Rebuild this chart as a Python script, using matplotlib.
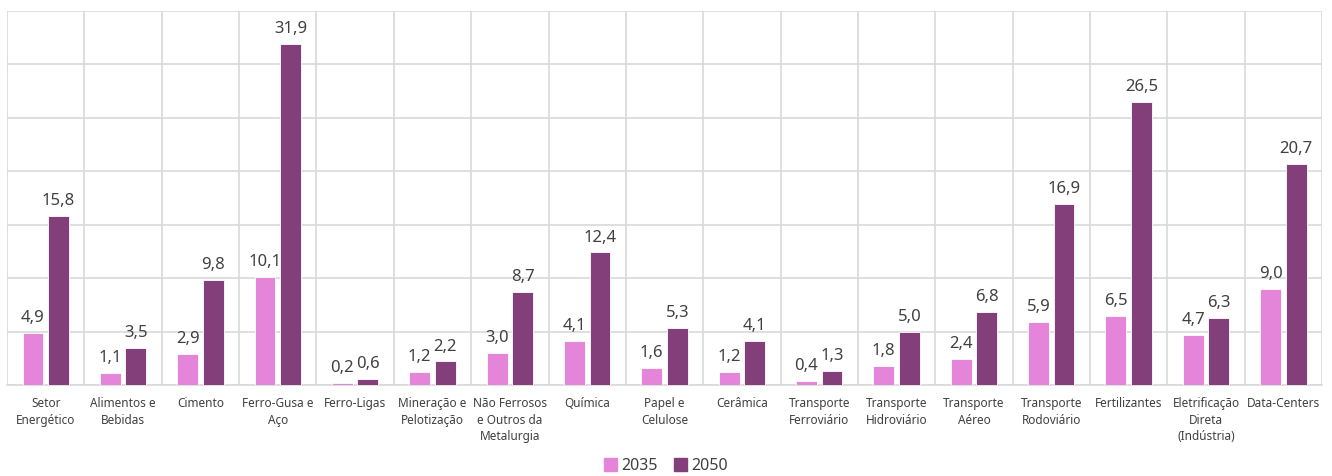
import numpy as np
import matplotlib
matplotlib.use('Agg')
import matplotlib.pyplot as plt
from matplotlib.patches import Patch

plt.rcParams['font.family'] = ['Noto Sans', 'DejaVu Sans']

categorias = [
    'Setor\nEnergético', 'Alimentos e\nBebidas', 'Cimento', 'Ferro-Gusa e\nAço',
    'Ferro-Ligas', 'Mineração e\nPelotização', 'Não Ferrosos\ne Outros da\nMetalurgia',
    'Química', 'Papel e\nCelulose', 'Cerâmica', 'Transporte\nFerroviário',
    'Transporte\nHidroviário', 'Transporte\nAéreo', 'Transporte\nRodoviário',
    'Fertilizantes', 'Eletrificação\nDireta\n(Indústria)', 'Data-Centers',
]
v2035 = [4.9, 1.1, 2.9, 10.1, 0.2, 1.2, 3.0, 4.1, 1.6, 1.2, 0.4, 1.8, 2.4, 5.9, 6.5, 4.7, 9.0]
v2050 = [15.8, 3.5, 9.8, 31.9, 0.6, 2.2, 8.7, 12.4, 5.3, 4.1, 1.3, 5.0, 6.8, 16.9, 26.5, 6.3, 20.7]

COR_2035 = '#e585d9'
COR_2050 = '#833f7a'
GRID = '#d9d9d9'
TXT = '#404040'

fig = plt.figure(figsize=(13.32, 4.76), dpi=100)
ax = fig.add_axes([0.0053, 0.1912, 0.9872, 0.7857])

x = np.arange(len(categorias))
w = 0.27
off = 0.165
b1 = ax.bar(x - off, v2035, w, color=COR_2035, edgecolor='white', linewidth=0.6, zorder=3)
b2 = ax.bar(x + off, v2050, w, color=COR_2050, edgecolor='white', linewidth=0.6, zorder=3)

fmt = lambda v: f'{v:.1f}'.replace('.', ',')
for bars, vals in ((b1, v2035), (b2, v2050)):
    for b, v in zip(bars, vals):
        ax.annotate(fmt(v), (b.get_x() + b.get_width() / 2, v),
                    xytext=(0, 5), textcoords='offset points',
                    ha='center', va='bottom', fontsize=12, color=TXT)

ax.set_xlim(-0.5, len(categorias) - 0.5)
ax.set_ylim(0, 35)
ax.set_yticks(np.arange(0, 36, 5))
ax.set_yticklabels([])
ax.tick_params(axis='y', length=0)
ax.yaxis.grid(True, color=GRID, linewidth=1.2, zorder=0)

# linhas verticais entre categorias
ax.set_xticks(np.arange(-0.5, len(categorias)), minor=True)
ax.xaxis.grid(True, which='minor', color=GRID, linewidth=1.2, zorder=0)
ax.tick_params(axis='x', which='minor', length=0)
ax.set_xticks(x)
ax.set_xticklabels(categorias, fontsize=8.5, color=TXT, linespacing=1.35)
ax.tick_params(axis='x', which='major', length=0, pad=9)

for s in ax.spines.values():
    s.set_visible(False)
ax.spines['bottom'].set_visible(True)
ax.spines['bottom'].set_color(GRID)
ax.spines['bottom'].set_linewidth(1.2)

handles = [Patch(color=COR_2035, label='2035'), Patch(color=COR_2050, label='2050')]
fig.legend(handles=handles, loc='center', bbox_to_anchor=(0.5, 0.021), ncol=2,
           frameon=False, fontsize=11.5, handlelength=0.8, handleheight=0.8,
           handletextpad=0.3, columnspacing=1.0, labelcolor=TXT)

fig.savefig('out.png', dpi=100, facecolor='white')
